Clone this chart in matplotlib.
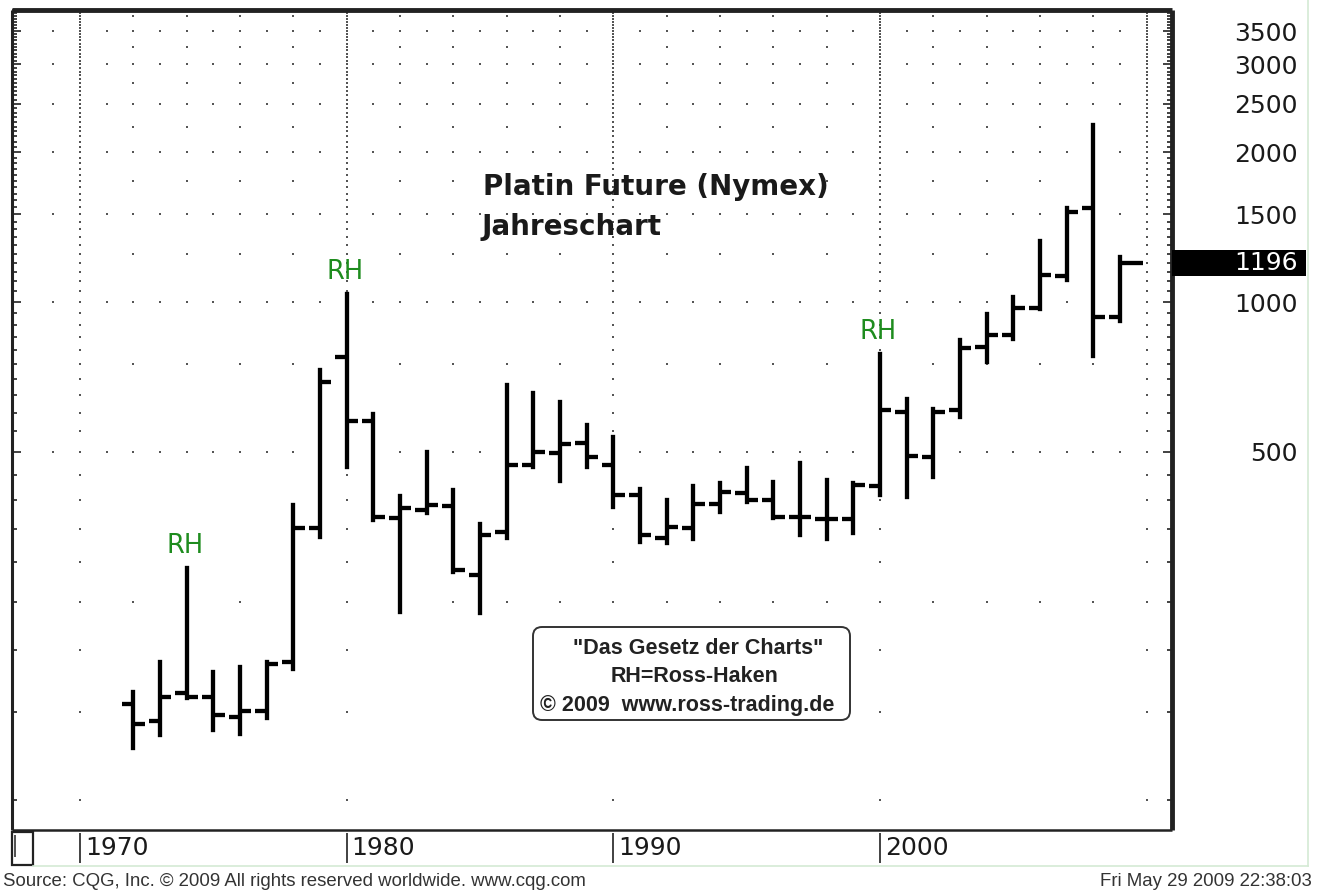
import numpy as np
import matplotlib
matplotlib.use("Agg")
import matplotlib.pyplot as plt
import matplotlib.transforms as mtransforms
from matplotlib.patches import FancyBboxPatch, Rectangle
from matplotlib.ticker import FixedLocator, FixedFormatter, NullFormatter

# Platin Future (Nymex), yearly bars 1972-2009 (USD)
years = np.arange(1972, 2010)
opens = [156, 144, 164, 161, 147, 151, 189, 352, 776, 577,
         368, 383, 389, 283, 345, 471, 497, 521, 471, 410,
         336, 352, 393, 414, 400, 370, 366, 366, 428, 601,
         489, 607, 812, 858, 973, 1127, 1544, 933]
highs = [165, 189, 292, 181, 185, 189, 391, 730, 1037, 596,
         408, 500, 420, 358, 681, 657, 630, 566, 536, 421,
         400, 427, 433, 464, 435, 475, 439, 433, 786, 639,
         610, 839, 946, 1023, 1326, 1544, 2266, 1231]
lows = [127, 135, 160, 138, 136, 146, 183, 338, 467, 365,
        239, 377, 287, 238, 336, 467, 437, 467, 388, 330,
        329, 335, 379, 397, 368, 341, 335, 344, 410, 406,
        446, 588, 758, 843, 968, 1107, 779, 916]
closes = [142, 161, 161, 148, 151, 188, 352, 691, 577, 370,
          386, 391, 290, 341, 471, 500, 519, 489, 410, 341,
          354, 393, 416, 400, 370, 370, 366, 430, 607, 491,
          601, 808, 858, 973, 1133, 1516, 933, 1196]

# Ross-Haken markers
rh_years = [1974, 1980, 2000]

price_labels = [500, 1000, 1500, 2000, 2500, 3000, 3500]
decade_labels = [1970, 1980, 1990, 2000]

# dotted grid
grid_rows_full = [500, 1000, 1500, 2000, 2500, 3000, 3500]
grid_rows_half = [250, 750, 1250, 1750, 2250, 2750, 3250, 3750]
grid_cols = [1970, 1980, 1990, 2000, 2010]

W, H = 1322, 893
fig = plt.figure(figsize=(W / 100, H / 100), dpi=100)
fig.patch.set_facecolor("white")


def px_box(x0, y0, x1, y1):
    return [x0 / W, 1 - y1 / H, (x1 - x0) / W, (y1 - y0) / H]


ax = fig.add_axes(px_box(12, 10, 1172, 830))
ax.set_yscale("log")
ax.set_xlim(1967.45, 2010.95)
ax.set_ylim(87.1, 3857)

# grid dots
dot_kw = dict(linestyle="none", marker="s", markersize=1.5, color="#555555",
              markeredgewidth=0, zorder=1)
all_years = np.arange(1969, 2011)
even_years = np.arange(1970, 2011, 2)
for v in grid_rows_full:
    ax.plot(all_years, np.full(len(all_years), v), **dot_kw)
for v in grid_rows_half:
    ax.plot(even_years, np.full(len(even_years), v), **dot_kw)
col_vals = np.arange(100, 3900, 50)
for c in grid_cols:
    ax.plot(np.full(len(col_vals), c), col_vals, **dot_kw)

# OHLC bars
years_f = years.astype(float)
tick_r = np.full(len(years), 0.42)
tick_r[-1] = 0.86
bar_kw = dict(color="black", linewidth=3.1, zorder=3)
ax.vlines(years_f, lows, highs, capstyle="projecting", **bar_kw)
ax.hlines(opens, years_f - 0.42, years_f, capstyle="butt", **bar_kw)
ax.hlines(closes, years_f, years_f + tick_r, capstyle="butt", **bar_kw)

# RH labels
for yr in rh_years:
    i = list(years).index(yr)
    ax.annotate("RH", xy=(yr, highs[i]), xytext=(-2, 22), textcoords="offset pixels",
                ha="center", va="center", fontsize=18.5, color="#1e8c1e")

# axes frame and ticks
ax.set_xticks([])
ax.yaxis.set_major_locator(FixedLocator(price_labels))
ax.yaxis.set_major_formatter(FixedFormatter([str(v) for v in price_labels]))
ax.yaxis.set_minor_locator(FixedLocator([v for v in col_vals if v not in price_labels]))
ax.yaxis.set_minor_formatter(NullFormatter())
ax.tick_params(axis="y", which="both", direction="in", left=True, right=True,
               labelleft=False, labelright=True, color="#222222", width=1.2)
ax.tick_params(axis="y", which="major", length=6.5, pad=90.7, labelsize=18,
               labelcolor="#1a1a1a")
ax.tick_params(axis="y", which="minor", length=3.6)
for lab in ax.get_yticklabels():
    lab.set_horizontalalignment("right")
for side, lw in [("top", 3.5), ("right", 3.5), ("left", 2.2), ("bottom", 1.8)]:
    ax.spines[side].set_linewidth(lw)
    ax.spines[side].set_color("#222222")
    ax.spines[side].set_capstyle("butt")

# last price box
trans = mtransforms.blended_transform_factory(ax.transAxes, ax.transData)
last = closes[-1]
ax.add_patch(Rectangle((1.0, last / 1.062), 0.1155, last * 1.062 - last / 1.062,
                       transform=trans, facecolor="black", edgecolor="none",
                       clip_on=False, zorder=5))
ax.text(1.1086, last, f"{last:.0f}", transform=trans, ha="right", va="center",
        color="white", fontsize=18, clip_on=False, zorder=6)

# time strip
ax2 = fig.add_axes(px_box(12, 830, 1172, 866))
ax2.set_xlim(ax.get_xlim())
ax2.set_ylim(0, 1)
ax2.axis("off")
ax2.vlines(decade_labels, 0.08, 0.92, color="#333333", linewidth=1.3)
for d in decade_labels:
    ax2.annotate(str(d), xy=(d, 0.5), xycoords=("data", "axes fraction"),
                 xytext=(5, 0), textcoords="offset pixels", ha="left", va="center",
                 fontsize=18, color="#1a1a1a")

# overlay in pixel coordinates
ov = fig.add_axes([0, 0, 1, 1])
ov.set_xlim(0, W)
ov.set_ylim(H, 0)
ov.axis("off")
ov.patch.set_alpha(0)

ov.add_patch(Rectangle((12, 832), 21, 33, facecolor="white", edgecolor="#222222",
                       linewidth=1.6))
ov.add_patch(Rectangle((13.5, 835), 2.5, 22, facecolor="#555555", edgecolor="none"))
ov.plot([1308, 1308], [0, 866], color="#d4ead4", linewidth=1.2)
ov.plot([33, 1308], [866, 866], color="#d4ead4", linewidth=1.2)

ov.text(483, 187, "Platin Future (Nymex)", fontsize=20, fontweight="bold",
        ha="left", va="center", color="#1a1a1a")
ov.text(481, 227, "Jahreschart", fontsize=20, fontweight="bold",
        ha="left", va="center", color="#1a1a1a")

ov.add_patch(FancyBboxPatch((533, 627), 317, 93, boxstyle="round,pad=0,rounding_size=9",
                            facecolor="white", edgecolor="#333333", linewidth=1.4))
box_font = dict(family="Liberation Sans", fontweight="bold", fontsize=15.5,
                color="#222222", ha="center", va="center")
ov.text(698, 649, "\"Das Gesetz der Charts\"", **box_font)
ov.text(695, 677, "RH=Ross-Haken", **box_font)
ov.text(687, 705, "\u00a9 2009  www.ross-trading.de", **box_font)

foot_font = dict(family="Liberation Sans", fontsize=13.4, color="#333333", va="center")
ov.text(3, 882, "Source: CQG, Inc. \u00a9 2009 All rights reserved worldwide. www.cqg.com",
        ha="left", **foot_font)
ov.text(1312, 882, "Fri May 29 2009 22:38:03", ha="right", **foot_font)

fig.savefig("out.png", dpi=100, facecolor="white")
